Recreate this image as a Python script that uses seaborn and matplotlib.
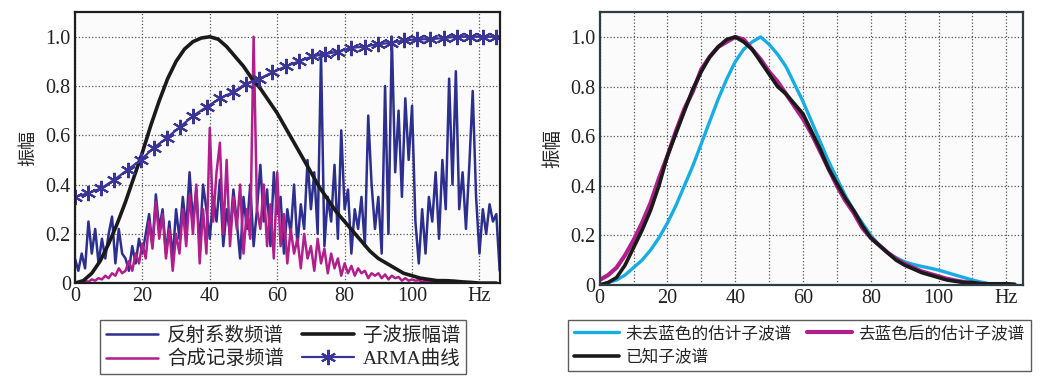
import numpy as np
import matplotlib
matplotlib.use("Agg")
import matplotlib.pyplot as plt
import seaborn as sns

# ---- left panel data ----
refl_spec = [0.10, 0.05, 0.12, 0.06, 0.25, 0.12, 0.22, 0.08, 0.18, 0.10,
             0.20, 0.27, 0.08, 0.22, 0.12, 0.10, 0.05, 0.15, 0.08, 0.18,
             0.12, 0.20, 0.28, 0.15, 0.36, 0.22, 0.30, 0.12, 0.25, 0.10,
             0.30, 0.18, 0.35, 0.22, 0.45, 0.25, 0.38, 0.15, 0.40, 0.30,
             0.18, 0.35, 0.25, 0.42, 0.15, 0.30, 0.20, 0.38, 0.25, 0.10,
             0.35, 0.22, 0.40, 0.15, 0.30, 0.48, 0.25, 0.38, 0.15, 0.45,
             0.28, 0.35, 0.12, 0.30, 0.20, 0.40, 0.15, 0.32, 0.22, 0.50,
             0.30, 0.45, 0.20, 0.93, 0.15, 0.35, 0.25, 0.48, 0.18, 0.62,
             0.30, 0.38, 0.12, 0.30, 0.22, 0.35, 0.15, 0.68, 0.40, 0.22,
             0.35, 0.12, 0.80, 0.20, 1.00, 0.45, 0.70, 0.35, 0.75, 0.50,
             0.72, 0.25, 0.08, 0.30, 0.12, 0.35, 0.25, 0.45, 0.18, 0.50,
             0.30, 0.83, 0.40, 0.86, 0.30, 0.45, 0.22, 0.48, 0.78, 0.35,
             0.12, 0.30, 0.20, 0.32, 0.25, 0.28, 0.05]
refl_freq = np.arange(len(refl_spec))

synth_spec = [0.0, 0.0, 0.005, 0.01, 0.005, 0.015, 0.01, 0.02, 0.015, 0.03,
              0.02, 0.04, 0.03, 0.06, 0.04, 0.05, 0.09, 0.05, 0.12, 0.08,
              0.16, 0.10, 0.25, 0.14, 0.33, 0.18, 0.28, 0.10, 0.22, 0.05,
              0.20, 0.12, 0.30, 0.15, 0.36, 0.20, 0.40, 0.08, 0.30, 0.12,
              0.63, 0.25, 0.45, 0.57, 0.20, 0.50, 0.15, 0.35, 0.22, 0.40,
              0.12, 0.30, 0.18, 1.00, 0.30, 0.22, 0.40, 0.15, 0.32, 0.10,
              0.45, 0.15, 0.28, 0.08, 0.22, 0.12, 0.18, 0.06, 0.20, 0.10,
              0.15, 0.05, 0.18, 0.08, 0.14, 0.04, 0.12, 0.06, 0.10, 0.03,
              0.08, 0.04, 0.07, 0.03, 0.06, 0.04, 0.05, 0.02, 0.04, 0.03,
              0.04, 0.02, 0.035, 0.015, 0.03, 0.02, 0.025, 0.01, 0.02, 0.01,
              0.015, 0.01, 0.012, 0.005, 0.01, 0.005, 0.008, 0.004, 0.006, 0.003,
              0.004, 0.002, 0.003, 0.001, 0.002, 0.0]
synth_freq = np.arange(len(synth_spec))

# wavelet amplitude spectrum, every 2.5 Hz
wav_freq = np.arange(0, 125.1, 2.5)
wav_amp = [0.0, 0.01, 0.04, 0.09, 0.16, 0.24, 0.33, 0.43, 0.53, 0.64,
           0.74, 0.83, 0.90, 0.95, 0.98, 0.995, 1.0, 0.99, 0.96, 0.92,
           0.88, 0.83, 0.79, 0.74, 0.69, 0.63, 0.57, 0.51, 0.45, 0.39,
           0.34, 0.29, 0.25, 0.21, 0.17, 0.13, 0.10, 0.08, 0.06, 0.04,
           0.03, 0.02, 0.015, 0.01, 0.01, 0.008, 0.005, 0.003, 0.0, 0.0, 0.0]

arma_vals = [0.35, 0.365, 0.385, 0.42, 0.46, 0.50, 0.55, 0.59, 0.635, 0.68,
             0.715, 0.75, 0.775, 0.81, 0.83, 0.855, 0.88, 0.90, 0.92, 0.93,
             0.94, 0.955, 0.96, 0.97, 0.975, 0.985, 0.99, 0.99, 0.995, 1.0,
             1.0, 1.0, 1.0]
arma_freq = np.linspace(0, 125, len(arma_vals))

# ---- right panel data (every 2.5 Hz) ----
est_freq = np.arange(0, 122.6, 2.5)
known_amp = [0.0, 0.01, 0.03, 0.08, 0.15, 0.22, 0.30, 0.40, 0.52, 0.61,
             0.70, 0.79, 0.86, 0.92, 0.96, 0.99, 1.0, 0.98, 0.95, 0.90,
             0.85, 0.80, 0.77, 0.73, 0.69, 0.62, 0.55, 0.47, 0.41, 0.35,
             0.30, 0.24, 0.19, 0.16, 0.13, 0.10, 0.08, 0.065, 0.05, 0.04,
             0.03, 0.02, 0.015, 0.01, 0.01, 0.005, 0.005, 0.005, 0.005, 0.003]
white_amp = [0.02, 0.04, 0.07, 0.12, 0.18, 0.25, 0.33, 0.43, 0.52, 0.62,
             0.71, 0.78, 0.87, 0.92, 0.96, 0.98, 1.0, 0.99, 0.95, 0.91,
             0.86, 0.82, 0.77, 0.72, 0.67, 0.61, 0.54, 0.47, 0.40, 0.34,
             0.29, 0.23, 0.19, 0.16, 0.13, 0.105, 0.085, 0.07, 0.055, 0.045,
             0.035, 0.025, 0.018, 0.012, 0.008, 0.005, 0.003, 0.002, 0.002, 0.0]
raw_freq = np.arange(0, 115.1, 2.5)
raw_amp = [0.0, 0.01, 0.02, 0.04, 0.07, 0.10, 0.14, 0.19, 0.25, 0.32,
           0.40, 0.48, 0.57, 0.66, 0.75, 0.83, 0.90, 0.95, 0.98, 1.0,
           0.97, 0.93, 0.88, 0.81, 0.74, 0.66, 0.58, 0.50, 0.43, 0.36,
           0.30, 0.25, 0.20, 0.16, 0.13, 0.11, 0.093, 0.083, 0.075, 0.068,
           0.06, 0.05, 0.04, 0.03, 0.02, 0.012, 0.005]

ytick_vals = [0, 0.2, 0.4, 0.6, 0.8, 1.0]
ytick_labels = ['0', '0.2', '0.4', '0.6', '0.8', '1.0']
xtick_vals = [0, 20, 40, 60, 80, 100, 120]
xtick_labels = ['0', '20', '40', '60', '80', '100', 'Hz']

sns.set_theme(style='white')
plt.rcParams['font.family'] = ['Liberation Serif', 'Noto Sans CJK SC']
plt.rcParams['axes.unicode_minus'] = False

NAVY = '#2d2f8e'
MAGENTA = '#b01f8c'
BLACK = '#1a1a1a'
CYAN = '#17ade3'
GRID = '#555555'

fig = plt.figure(figsize=(10.41, 3.79), dpi=100)
ax1 = fig.add_axes([0.072, 0.253, 0.408, 0.715])
ax2 = fig.add_axes([0.576, 0.248, 0.407, 0.72])

# left panel
sns.lineplot(x=refl_freq, y=refl_spec, ax=ax1, color=NAVY, lw=1.8,
             label='反射系数频谱', legend=False)
sns.lineplot(x=synth_freq, y=synth_spec, ax=ax1, color=MAGENTA, lw=1.8,
             label='合成记录频谱', legend=False)
sns.lineplot(x=wav_freq, y=wav_amp, ax=ax1, color=BLACK, lw=2.6,
             label='子波振幅谱', legend=False)
sns.lineplot(x=arma_freq, y=arma_vals, ax=ax1, color='#3a3594', lw=1.6,
             marker=(6, 2, 0), markersize=11, markeredgewidth=1.5,
             markeredgecolor='#3a3594', label='ARMA曲线', legend=False)

# right panel
sns.lineplot(x=raw_freq, y=raw_amp, ax=ax2, color=CYAN, lw=2.4,
             label='未去蓝色的估计子波谱', legend=False)
sns.lineplot(x=est_freq, y=white_amp, ax=ax2, color=MAGENTA, lw=3.0,
             label='去蓝色后的估计子波谱', legend=False)
sns.lineplot(x=est_freq, y=known_amp, ax=ax2, color=BLACK, lw=2.6,
             label='已知子波谱', legend=False)

for ax, spine_col in [(ax1, '#1e1e1e'), (ax2, '#2e3d44')]:
    ax.set_facecolor('#fbfbfb')
    ax.set_ylim(0, 1.1)
    ax.set_yticks(ytick_vals)
    ax.set_yticklabels(ytick_labels)
    ax.set_xticks(xtick_vals)
    ax.set_xticklabels(xtick_labels)
    ax.set_xlabel('')
    ax.tick_params(axis='both', labelsize=14.5, colors='#222222', length=0, pad=3)
    ax.grid(True, which='both', linestyle=':', color=GRID, lw=0.9)
    for s in ax.spines.values():
        s.set_color(spine_col)
        s.set_linewidth(1.6)
    ax.set_axisbelow(True)

ax1.set_xlim(0, 126)
ax2.set_xlim(0, 125)
ax2.set_xticks(np.arange(10, 121, 20), minor=True)
ax2.tick_params(axis='x', which='both', direction='in', length=4, width=1.2,
                color='#2e3d44')

ax1.set_ylabel('振幅', fontsize=13, labelpad=6)
ax2.set_ylabel('振幅', fontsize=14, labelpad=6)

h1, l1 = ax1.get_legend_handles_labels()
h2, l2 = ax2.get_legend_handles_labels()
order1 = [0, 1, 2, 3]
order2 = [0, 2, 1]
leg1 = fig.legend([h1[i] for i in order1], [l1[i] for i in order1], ncol=2,
                  loc='upper left', bbox_to_anchor=(100 / 1041, 1 - 320 / 379),
                  borderaxespad=0, fontsize=14, frameon=True, fancybox=False,
                  edgecolor='#333333', handlelength=2.7, labelspacing=0.28,
                  columnspacing=0.9, borderpad=0.3, handletextpad=0.45)
leg2 = fig.legend([h2[i] for i in order2], [l2[i] for i in order2], ncol=2,
                  loc='upper left', bbox_to_anchor=(568 / 1041, 1 - 320 / 379),
                  borderaxespad=0, fontsize=12, frameon=True, fancybox=False,
                  edgecolor='#333333', handlelength=2.7, labelspacing=0.45,
                  columnspacing=0.9, borderpad=0.35, handletextpad=0.4)
for leg in (leg1, leg2):
    leg.get_frame().set_linewidth(1.0)

fig.savefig('out.png', dpi=100, facecolor='white')
